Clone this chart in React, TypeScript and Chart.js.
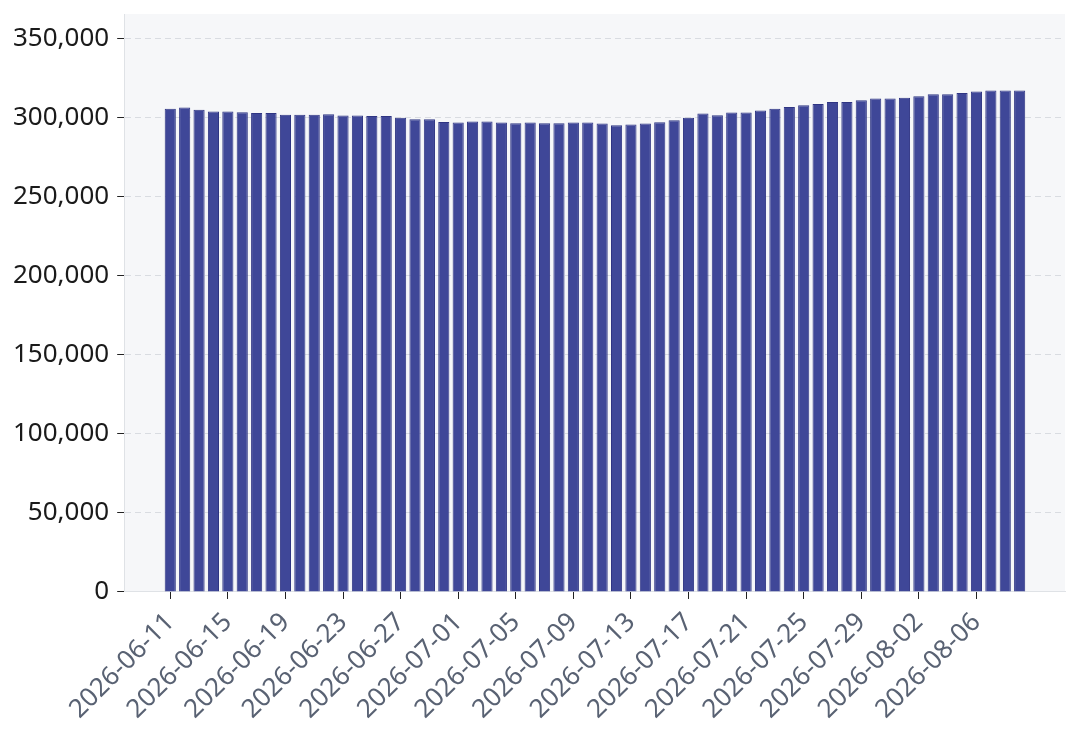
import { useEffect, useRef } from 'react';
import { Chart, registerables } from 'chart.js';

Chart.register(...registerables);

const dates = [
  '2026-06-11', '2026-06-12', '2026-06-13', '2026-06-14', '2026-06-15', '2026-06-16', '2026-06-17', '2026-06-18', '2026-06-19', '2026-06-20',
  '2026-06-21', '2026-06-22', '2026-06-23', '2026-06-24', '2026-06-25', '2026-06-26', '2026-06-27', '2026-06-28', '2026-06-29', '2026-06-30',
  '2026-07-01', '2026-07-02', '2026-07-03', '2026-07-04', '2026-07-05', '2026-07-06', '2026-07-07', '2026-07-08', '2026-07-09', '2026-07-10',
  '2026-07-11', '2026-07-12', '2026-07-13', '2026-07-14', '2026-07-15', '2026-07-16', '2026-07-17', '2026-07-18', '2026-07-19', '2026-07-20',
  '2026-07-21', '2026-07-22', '2026-07-23', '2026-07-24', '2026-07-25', '2026-07-26', '2026-07-27', '2026-07-28', '2026-07-29', '2026-07-30',
  '2026-07-31', '2026-08-01', '2026-08-02', '2026-08-03', '2026-08-04', '2026-08-05', '2026-08-06', '2026-08-07', '2026-08-08', '2026-08-09',
];

const values = [
  305600, 306500, 305000, 304000, 304000, 303500, 303000, 303000, 301800, 301800,
  301800, 302200, 301400, 301400, 301000, 301000, 299900, 299000, 299000, 297300,
  296900, 297600, 297600, 297000, 296500, 297000, 296500, 296500, 297000, 297000,
  296300, 295300, 295700, 296300, 297100, 298400, 299900, 302600, 301600, 303300,
  303300, 304500, 305600, 306800, 307900, 308600, 310000, 310000, 311100, 312100,
  312100, 312700, 313600, 314800, 314800, 315700, 316500, 317200, 317200, 317200,
];

// every 4th day gets a label
const tickDays = ['2026-06-11', '2026-06-15', '2026-06-19', '2026-06-23', '2026-06-27', '2026-07-01', '2026-07-05',
  '2026-07-09', '2026-07-13', '2026-07-17', '2026-07-21', '2026-07-25', '2026-07-29', '2026-08-02', '2026-08-06'];

const yTicks = [0, 50000, 100000, 150000, 200000, 250000, 300000, 350000];

const plotBg = {
  id: 'plotBg',
  beforeDraw(chart: Chart) {
    const { ctx, chartArea } = chart;
    if (!chartArea) return;
    ctx.save();
    ctx.fillStyle = '#f6f7f9';
    ctx.fillRect(chartArea.left, chartArea.top, chartArea.right - chartArea.left, chartArea.bottom - chartArea.top);
    ctx.restore();
  },
};

export default function App() {
  const canvasRef = useRef<HTMLCanvasElement>(null);

  useEffect(() => {
    document.body.style.margin = '0';
    if (!canvasRef.current) return;

    const chart = new Chart(canvasRef.current, {
      type: 'bar',
      data: {
        datasets: [
          {
            data: values.map((v, i) => ({ x: i, y: v })),
            backgroundColor: '#3f4798',
            borderColor: '#2f3583',
            borderWidth: 1,
            barPercentage: 0.9,
            categoryPercentage: 0.86,
          },
        ],
      },
      plugins: [plotBg],
      options: {
        responsive: true,
        maintainAspectRatio: false,
        animation: false,
        layout: { padding: { top: 14, right: 15, left: 5, bottom: 2 } },
        plugins: {
          legend: { display: false },
          tooltip: { enabled: false },
        },
        scales: {
          x: {
            type: 'linear',
            offset: false,
            min: -3.2,
            max: 62.15,
            afterBuildTicks: (axis: any) => {
              axis.ticks = tickDays.map(d => ({ value: dates.indexOf(d) }));
            },
            ticks: {
              autoSkip: false,
              maxRotation: 45,
              minRotation: 45,
              color: '#596273',
              padding: 8,
              font: { family: 'Noto Sans', size: 26 },
              callback: (v: any) => dates[v as number] ?? '',
            },
            grid: {
              offset: false,
              drawOnChartArea: false,
              drawTicks: true,
              tickLength: 7,
              tickColor: '#222',
            },
            border: { color: '#dfe2e6' },
          },
          y: {
            min: 0,
            max: 365600,
            afterBuildTicks: (axis: any) => {
              axis.ticks = yTicks.map(v => ({ value: v }));
            },
            afterFit: (axis: any) => {
              // top label sits well below the plot edge, no room needed
              axis.paddingTop = 0;
            },
            ticks: {
              color: '#1a1a1a',
              padding: 8,
              font: { family: 'Noto Sans', size: 26 },
              callback: (v: any) => Number(v).toLocaleString('en-US'),
            },
            grid: {
              color: '#d9dce1',
              drawTicks: true,
              tickLength: 7,
              tickColor: '#222',
              tickBorderDash: [],
            },
            border: { color: '#dfe2e6', dash: [6, 4] },
          },
        },
      },
    });

    return () => chart.destroy();
  }, []);

  return (
    <div style={{ width: 1080, height: 735, position: 'relative' }}>
      <canvas ref={canvasRef} />
    </div>
  );
}
